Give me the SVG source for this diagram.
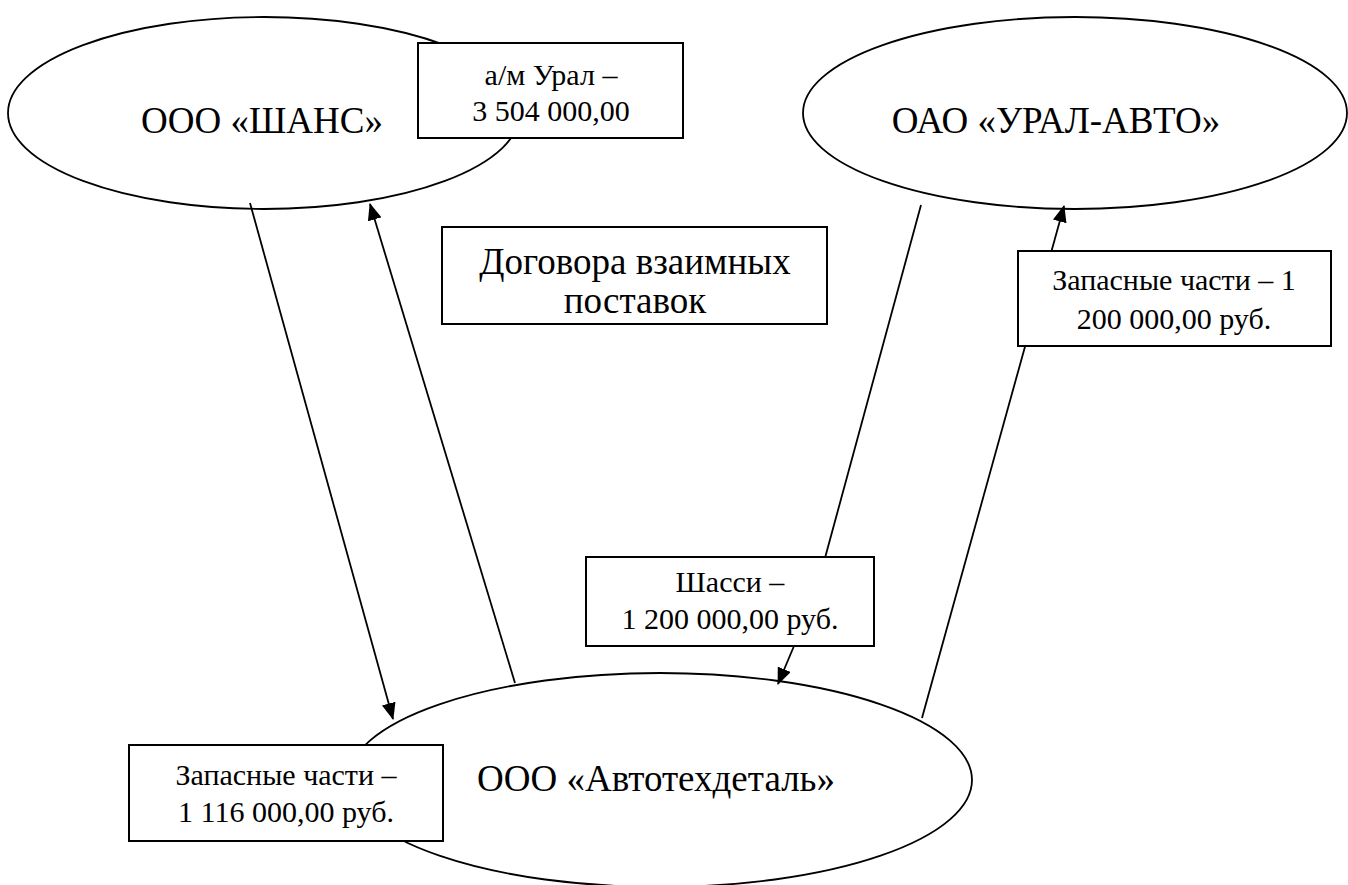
<svg xmlns="http://www.w3.org/2000/svg" width="1348" height="885" viewBox="0 0 1348 885">
<style>
.el{fill:#fff;stroke:#000;stroke-width:1.8}
.bx{fill:#fff;stroke:#000;stroke-width:2}
.ln{stroke:#000;stroke-width:1.8;fill:none}
text{fill:#000;text-anchor:middle}
.big{font-size:37px}
.sm{font-size:30px}
</style>
<defs>
<marker id="ah" markerUnits="userSpaceOnUse" markerWidth="17" markerHeight="14" refX="16" refY="7" orient="auto">
<path d="M0,0 L17,7 L0,14 Z" fill="#000"/>
</marker>
</defs>
<g font-family="Liberation Serif, serif">
<g id="n-shans">
<ellipse class="el" cx="264" cy="113" rx="256" ry="96"/>
<text class="big" x="262" y="133">ООО «ШАНС»</text>
</g>
<g id="n-uralavto">
<ellipse class="el" cx="1075" cy="113" rx="272" ry="96"/>
<text class="big" x="1056" y="133">ОАО «УРАЛ-АВТО»</text>
</g>
<g id="n-avto">
<ellipse class="el" cx="660" cy="780" rx="312" ry="107"/>
<text class="big" x="656" y="791">ООО «Автотехдеталь»</text>
</g>
<g id="connectors">
<line class="ln" x1="250" y1="203" x2="393" y2="719" marker-end="url(#ah)"/>
<line class="ln" x1="515" y1="683" x2="370" y2="204" marker-end="url(#ah)"/>
<line class="ln" x1="921" y1="205" x2="825" y2="558"/>
<line class="ln" x1="794" y1="646" x2="778" y2="684" marker-end="url(#ah)"/>
<line class="ln" x1="922" y1="718" x2="1064" y2="206" marker-end="url(#ah)"/>
</g>
<g id="l-am">
<rect class="bx" x="418" y="43" width="265" height="95"/>
<text class="sm" x="551" y="85">а/м Урал –</text>
<text class="sm" x="551" y="121">3 504 000,00</text>
</g>
<g id="l-dogovor">
<rect class="bx" x="442" y="227" width="385" height="97"/>
<text class="big" x="635" y="274">Договора взаимных</text>
<text class="big" x="635" y="313">поставок</text>
</g>
<g id="l-zap1">
<rect class="bx" x="1018" y="251" width="313" height="95"/>
<text class="sm" x="1174" y="290">Запасные части – 1</text>
<text class="sm" x="1174" y="329">200 000,00 руб.</text>
</g>
<g id="l-shassi">
<rect class="bx" x="586" y="557" width="288" height="89"/>
<text class="sm" x="730" y="592">Шасси –</text>
<text class="sm" x="730" y="629">1 200 000,00 руб.</text>
</g>
<g id="l-zap2">
<rect class="bx" x="129" y="745" width="314" height="96"/>
<text class="sm" x="286" y="785">Запасные части –</text>
<text class="sm" x="286" y="822">1 116 000,00 руб.</text>
</g>
</g>
</svg>
